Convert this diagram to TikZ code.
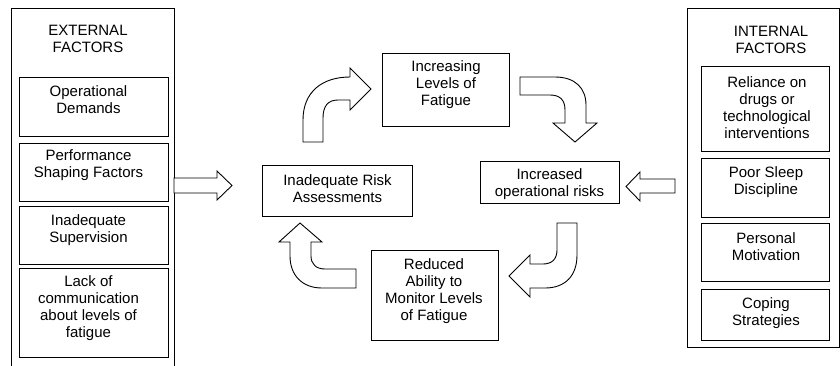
\documentclass[tikz,border=0pt]{standalone}
\usepackage{fontspec}
\setmainfont{Liberation Sans}
\begin{document}
\begin{tikzpicture}[x=1pt,y=-1pt,
  box/.style={draw, line width=0.9pt, inner sep=0pt},
  txt/.style={align=center, font=\fontsize{15}{17}\selectfont, inner sep=0pt},
  blockarrow/.style={draw, line width=0.9pt, fill=white, line join=miter}]
\path[use as bounding box, clip] (0,0) rectangle (840,365);

% external factors column (open below the page edge)
\node[box, minimum width=163, minimum height=380, anchor=north west] (ext) at (11,8) {};
\node[txt] (extT) at (88,38.5) {EXTERNAL\\FACTORS};
\node[box, minimum width=149, minimum height=59] (e1) at (93.5,106.5) {};
\node[txt] (e1t) at (88.5,100) {Operational\\Demands};
\node[box, minimum width=149, minimum height=58] (e2) at (93.5,172) {};
\node[txt] (e2t) at (88.5,165.5) {Performance\\Shaping Factors};
\node[box, minimum width=149, minimum height=58] (e3) at (93.5,235) {};
\node[txt] (e3t) at (88.5,230) {Inadequate\\Supervision};
\node[box, minimum width=149, minimum height=89] (e4) at (93.5,312.5) {};
\node[txt] (e4t) at (88.5,308) {Lack of\\communication\\about levels of\\fatigue};

% internal factors column
\node[box, minimum width=152, minimum height=339, anchor=north west] (int) at (687,8) {};
\node[txt] (intT) at (771,40) {INTERNAL\\FACTORS};
\node[box, minimum width=128, minimum height=85] (i1) at (765,108.5) {};
\node[txt] (i1t) at (767,107.5) {Reliance on\\drugs or\\technological\\interventions};
\node[box, minimum width=128, minimum height=59] (i2) at (765,187.5) {};
\node[txt] (i2t) at (766,182.5) {Poor Sleep\\Discipline};
\node[box, minimum width=128, minimum height=58] (i3) at (765,252) {};
\node[txt] (i3t) at (766,247) {Personal\\Motivation};
\node[box, minimum width=128, minimum height=51] (i4) at (765,314.5) {};
\node[txt] (i4t) at (766,313.5) {Coping\\Strategies};

% the fatigue cycle
\node[box, minimum width=127, minimum height=73] (fat) at (445.5,89.5) {};
\node[txt] (fatt) at (446,85) {Increasing\\Levels of\\Fatigue};
\node[box, minimum width=139, minimum height=42] (risk) at (549.5,182) {};
\node[txt] (riskt) at (549.5,184.5) {Increased\\operational risks};
\node[box, minimum width=150, minimum height=51] (ira) at (337,190.5) {};
\node[txt] (irat) at (337.5,188.5) {Inadequate Risk\\Assessments};
\node[box, minimum width=127, minimum height=90] (red) at (434.5,295) {};
\node[txt] (redt) at (434,291) {Reduced\\Ability to\\Monitor Levels\\of Fatigue};

% block arrows into the cycle
\draw[blockarrow] (174,178) -- (217,178) -- (217,171) -- (232,185.5) -- (217,200)
  -- (217,193) -- (174,193) -- cycle;
\draw[blockarrow] (675,179) -- (640,179) -- (640,172) -- (626,186.5) -- (640,201)
  -- (640,193) -- (675,193) -- cycle;

% curved block arrows around the cycle
\draw[blockarrow] (303,142) -- (303,120) .. controls (303,92) and (322,77) .. (350,77)
  -- (350,68) -- (371,89) -- (350,110) -- (350,100) -- (338,100)
  .. controls (328,100) and (323,106) .. (323,118) -- (323,142) -- cycle;
\draw[blockarrow] (520,77) -- (555,77) .. controls (575,77) and (586,88) .. (586,105)
  -- (586,123) -- (597,123) -- (575,142) -- (553,123) -- (565,123) -- (565,110)
  .. controls (565,100) and (560,95) .. (550,95) -- (520,95) -- cycle;
\draw[blockarrow] (557,223) -- (577,223) -- (577,255) .. controls (577,276) and (565,288) .. (545,288)
  -- (530,288) -- (530,297) -- (509,276) -- (530,255) -- (530,264) -- (543,264)
  .. controls (552,264) and (557,259) .. (557,250) -- cycle;
\draw[blockarrow] (356,269) -- (356,288) -- (322,288) .. controls (302,288) and (290,275) .. (290,256)
  -- (290,242) -- (279,242) -- (300,223) -- (322,242) -- (311,242) -- (311,256)
  .. controls (311,264) and (316,269) .. (325,269) -- cycle;
\end{tikzpicture}
\end{document}
